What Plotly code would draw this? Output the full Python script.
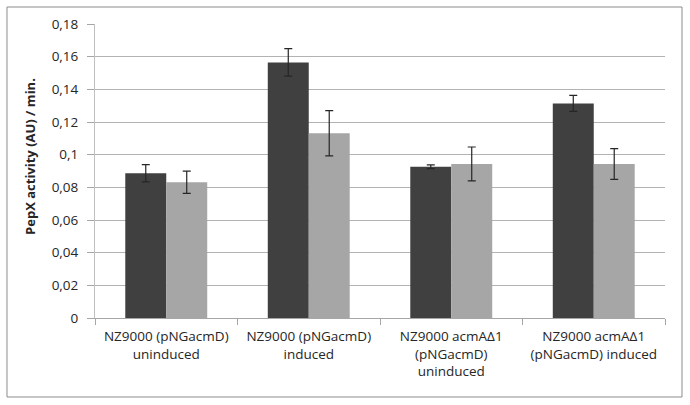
import plotly.graph_objects as go

categories = [
    "NZ9000 (pNGacmD)<br>uninduced",
    "NZ9000 (pNGacmD)<br>induced",
    "NZ9000 acmAΔ1<br>(pNGacmD)<br>uninduced",
    "NZ9000 acmAΔ1<br>(pNGacmD) induced",
]
series_dark = [0.0886, 0.1565, 0.0926, 0.1314]
err_dark = [0.0053, 0.0084, 0.0012, 0.0049]
series_light = [0.0831, 0.1131, 0.0943, 0.0943]
err_light = [0.0068, 0.0139, 0.0104, 0.0094]
ytick_vals = [0, 0.02, 0.04, 0.06, 0.08, 0.1, 0.12, 0.14, 0.16, 0.18]
ytick_text = ["0", "0,02", "0,04", "0,06", "0,08", "0,1", "0,12", "0,14", "0,16", "0,18"]

FONT = "Open Sans"
TXT = "#262626"

fig = go.Figure()
fig.add_trace(go.Bar(
    x=categories, y=series_dark, name="dark",
    marker=dict(color="#404040", line=dict(width=0)),
    error_y=dict(type="data", array=err_dark, visible=True,
                 color="#262626", thickness=1.2, width=4),
))
fig.add_trace(go.Bar(
    x=categories, y=series_light, name="light",
    marker=dict(color="#a6a6a6", line=dict(width=0)),
    error_y=dict(type="data", array=err_light, visible=True,
                 color="#262626", thickness=1.2, width=4),
))

fig.update_layout(
    width=690, height=405,
    margin=dict(l=95, r=25, t=24, b=87),
    paper_bgcolor="white", plot_bgcolor="white",
    barmode="group", bargap=0.425, bargroupgap=0,
    showlegend=False,
    font=dict(family=FONT, size=13.5, color=TXT),
    xaxis=dict(
        type="category",
        showline=True, linecolor="#a6a6a6", linewidth=1,
        ticks="outside", tickson="boundaries", ticklen=6,
        tickcolor="#a6a6a6", showgrid=False,
        ticklabelstandoff=6,
        tickfont=dict(family=FONT, size=13.5, color=TXT),
    ),
    yaxis=dict(
        range=[0, 0.18],
        tickvals=ytick_vals, ticktext=ytick_text,
        showline=True, linecolor="#bfbfbf", linewidth=1,
        ticks="outside", ticklen=7, tickcolor="#a6a6a6",
        ticklabelstandoff=6,
        showgrid=True, gridcolor="#b3b3b3", gridwidth=1,
        zeroline=False,
        tickfont=dict(family=FONT, size=13.5, color=TXT),
    ),
    shapes=[dict(
        type="rect", xref="paper", yref="paper",
        x0=-0.1544, x1=1.0298, y0=-0.2687, y1=1.0578,
        line=dict(color="#8c8c8c", width=1), fillcolor="rgba(0,0,0,0)",
    )],
    annotations=[dict(
        text="<b>PepX activity (AU) / min.</b>",
        xref="paper", yref="paper", x=-0.114, y=0.548,
        textangle=-90, showarrow=False,
        font=dict(family=FONT, size=13, color=TXT),
        xanchor="center", yanchor="middle",
    )],
)

fig.write_html("out.html", config={"displayModeBar": False},
               post_script="document.body.style.margin='0';")
